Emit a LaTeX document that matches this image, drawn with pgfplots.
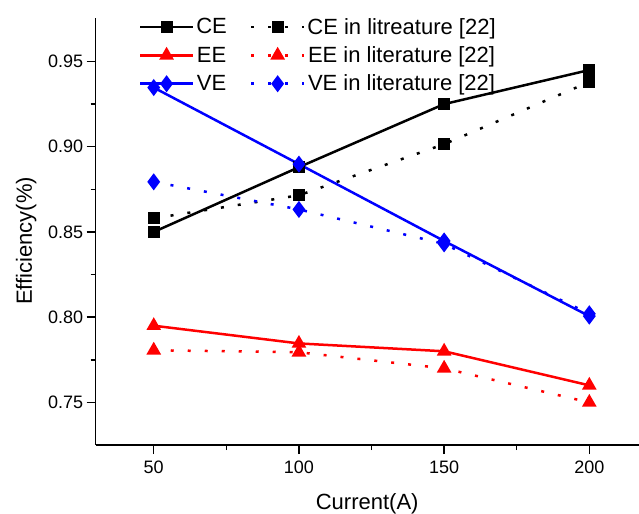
\documentclass[border=0pt]{standalone}
\usepackage{pgfplots}
\pgfplotsset{compat=1.18}
\usepackage{fontspec}
\setmainfont{Liberation Sans}
\begin{document}
\begin{tikzpicture}
\begin{axis}[
  scale only axis,
  width=543pt, height=427pt,
  xmin=30, xmax=217, ymin=0.725, ymax=0.9755,
  axis x line*=bottom, axis y line*=left,
  axis line style={line width=1.5pt,-},
  every tick/.style={line width=1.5pt,black},
  tick align=outside,
  major tick length=9pt, minor tick length=5pt,
  xtick={50,100,150,200}, ytick={0.75,0.80,0.85,0.90,0.95},
  minor tick num=1,
  /pgf/number format/assume math mode=true,
  yticklabel style={/pgf/number format/.cd,fixed,fixed zerofill,precision=2},
  ticklabel style={font=\fontsize{18}{21}\selectfont},
  xticklabel style={yshift=-3pt},
  xlabel={Current(A)}, ylabel={Efficiency(\%)},
  label style={font=\fontsize{22}{25}\selectfont},
  xlabel style={at={(axis description cs:0.5,-0.151)}, anchor=base},
  ylabel style={at={(axis description cs:-0.1173,0.478)}, anchor=base},
  legend columns=2,
  legend style={draw=none, fill=none, font=\fontsize{22}{25}\selectfont,
    at={(0.0736,1.0096)}, anchor=north west,
    /tikz/every even column/.append style={column sep=21pt},
    row sep=7pt},
  legend image code/.code={
    \draw[mark repeat=2,mark phase=2] plot coordinates {(0pt,0pt) (26.5pt,0pt) (53pt,0pt)};},
  every axis plot/.append style={line width=2.5pt},
]
\addplot[black, mark=square*, mark size=4.8pt, mark options={solid}] coordinates {(50,0.850) (100,0.888) (150,0.925) (200,0.945)};
\addlegendentry{CE}
\addplot[black, dash pattern=on 3pt off 14pt, mark=square*, mark size=4.8pt, mark options={solid}] coordinates {(50,0.858) (100,0.8715) (150,0.9015) (200,0.938)};
\addlegendentry{CE in litreature [22]}
\addplot[red, mark=triangle*, mark size=6pt, mark options={solid}] coordinates {(50,0.795) (100,0.7846) (150,0.780) (200,0.760)};
\addlegendentry{EE}
\addplot[red, dash pattern=on 3pt off 14pt, mark=triangle*, mark size=6pt, mark options={solid}] coordinates {(50,0.7806) (100,0.7794) (150,0.770) (200,0.750)};
\addlegendentry{EE in literature [22]}
\addplot[blue, mark=diamond*, mark size=6.5pt, mark options={solid}] coordinates {(50,0.9347) (100,0.8898) (150,0.8447) (200,0.8006)};
\addlegendentry{VE}
\addplot[blue, dash pattern=on 3pt off 14pt, mark=diamond*, mark size=6.5pt, mark options={solid}] coordinates {(50,0.8794) (100,0.8632) (150,0.843) (200,0.802)};
\addlegendentry{VE in literature [22]}
\coordinate (bl) at (axis description cs:-0.1762,-0.1593);
\coordinate (tr) at (axis description cs:1.0006,1.0422);
\end{axis}
\pgfresetboundingbox
\path (bl) rectangle (tr);
\end{tikzpicture}
\end{document}
